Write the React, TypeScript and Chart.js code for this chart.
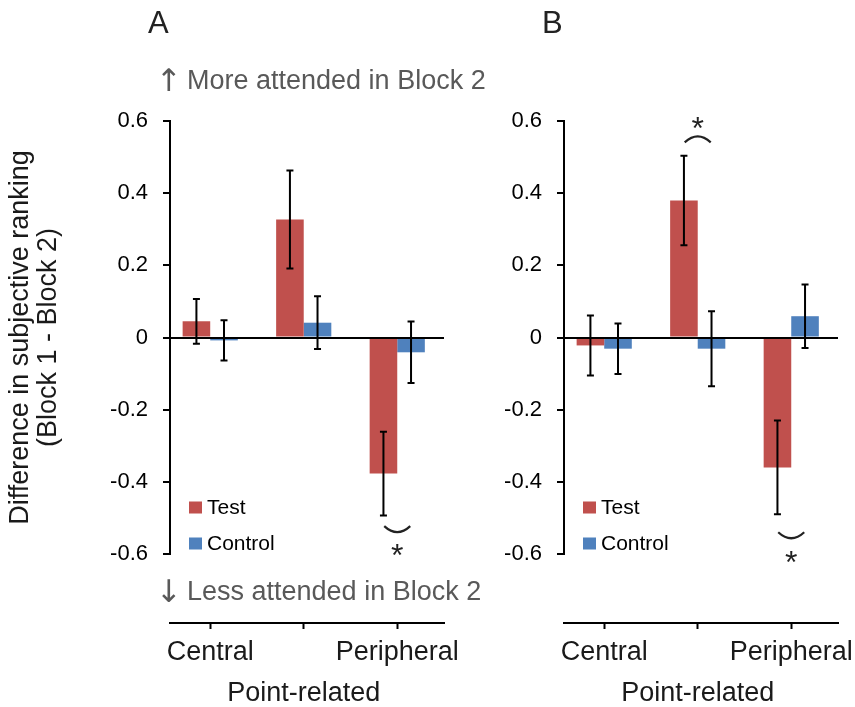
import React, { useEffect, useRef } from "react";
import { Chart, registerables } from "chart.js";

Chart.register(...registerables);

// ---------- data ----------
const categories = ["Central", "Point-related", "Peripheral"];
const seriesNames = ["Test", "Control"];

const panelATest = [0.045, 0.327, -0.377];
const panelATestErr = [0.062, 0.136, 0.116];
const panelAControl = [-0.008, 0.041, -0.041];
const panelAControlErr = [0.056, 0.073, 0.085];

const panelBTest = [-0.022, 0.38, -0.36];
const panelBTestErr = [0.083, 0.124, 0.13];
const panelBControl = [-0.031, -0.031, 0.059];
const panelBControlErr = [0.07, 0.104, 0.088];

const yTickValues = [-0.6, -0.4, -0.2, 0, 0.2, 0.4, 0.6];
const yAxisTitle = ["Difference in subjective ranking", "(Block 1 - Block 2)"];
const upArrow = "\u2191";
const downArrow = "\u2193";
const upperNote = "More attended in Block 2";
const lowerNote = "Less attended in Block 2";

// significance marks: category index, value where bracket sits, value where star sits
type Sig = { category: number; bracket: number; star: number };
const panelASig: Sig[] = [{ category: 2, bracket: -0.531, star: -0.59 }];
const panelBSig: Sig[] = [
  { category: 1, bracket: 0.549, star: 0.594 },
  { category: 2, bracket: -0.548, star: -0.607 },
];

// ---------- styles ----------
const FONT = "'Liberation Sans', Arial, Helvetica, sans-serif";
const ARROW_FONT = "'DejaVu Sans', sans-serif";
const RED = "#C0504D";
const BLUE = "#4F81BD";
const CANVAS_H = 707;

Chart.defaults.font.family = FONT;
Chart.defaults.color = "#000";

function makeDecor(letter: string, showNotes: boolean, sig: Sig[]) {
  return {
    id: "decor" + letter,
    afterDatasetsDraw(chart: any) {
      const ctx = chart.ctx;
      const ys = chart.scales.y;
      ctx.save();
      ctx.strokeStyle = "#000";
      ctx.lineWidth = 2;
      chart.data.datasets.forEach((ds: any, i: number) => {
        const meta = chart.getDatasetMeta(i);
        meta.data.forEach((el: any, j: number) => {
          const v = ds.data[j].y;
          const e = ds.errors[j];
          const t = ys.getPixelForValue(v + e);
          const b = ys.getPixelForValue(v - e);
          ctx.beginPath();
          ctx.moveTo(el.x, t);
          ctx.lineTo(el.x, b);
          ctx.moveTo(el.x - 3.5, t);
          ctx.lineTo(el.x + 3.5, t);
          ctx.moveTo(el.x - 3.5, b);
          ctx.lineTo(el.x + 3.5, b);
          ctx.stroke();
        });
      });
      ctx.restore();
    },
    afterDraw(chart: any) {
      const { ctx, chartArea } = chart;
      const ys = chart.scales.y;
      const xs = chart.scales.x;
      ctx.save();
      ctx.textAlign = "left";
      ctx.textBaseline = "alphabetic";
      // panel letter
      ctx.fillStyle = "#222";
      ctx.font = `31px ${FONT}`;
      ctx.fillText(letter, chartArea.left - 22, chartArea.top - 88);
      // direction notes
      if (showNotes) {
        ctx.fillStyle = "#595959";
        const upY = chartArea.top - 32;
        const downY = ys.bottom + 46;
        ctx.font = `31px ${ARROW_FONT}`;
        ctx.fillText(upArrow, chartArea.left - 14, upY + 2);
        ctx.fillText(downArrow, chartArea.left - 14, downY + 2);
        ctx.font = `27px ${FONT}`;
        ctx.fillText(upperNote, chartArea.left + 17, upY);
        ctx.fillText(lowerNote, chartArea.left + 17, downY);
      }
      // legend
      ctx.font = `21px ${FONT}`;
      ctx.textBaseline = "middle";
      const n = chart.data.datasets.length;
      chart.data.datasets.forEach((ds: any, i: number) => {
        const cy = ys.bottom - 10.5 - (n - 1 - i) * 36;
        ctx.fillStyle = ds.backgroundColor;
        ctx.fillRect(chartArea.left + 19, cy - 6, 13, 12);
        ctx.fillStyle = "#000";
        ctx.fillText(ds.label, chartArea.left + 37, cy + 1);
      });
      // significance
      sig.forEach((s) => {
        const cx = xs.getPixelForValue(s.category);
        const by = ys.getPixelForValue(s.bracket);
        const dir = s.bracket < 0 ? 1 : -1;
        ctx.strokeStyle = "#222";
        ctx.lineWidth = 2.2;
        ctx.beginPath();
        ctx.moveTo(cx - 13, by - dir * 3);
        ctx.quadraticCurveTo(cx, by + dir * 9, cx + 13, by - dir * 3);
        ctx.stroke();
        ctx.font = `32px ${FONT}`;
        ctx.textAlign = "center";
        ctx.textBaseline = "alphabetic";
        ctx.fillStyle = "#222";
        const m = ctx.measureText("*");
        const sy = ys.getPixelForValue(s.star);
        ctx.fillText("*", cx, sy + (m.actualBoundingBoxAscent - m.actualBoundingBoxDescent) / 2);
        ctx.textAlign = "left";
      });
      ctx.restore();
    },
  };
}

function buildConfig(
  test: number[],
  testErr: number[],
  control: number[],
  controlErr: number[],
  letter: string,
  yWidth: number,
  padRight: number,
  showTitle: boolean,
  sig: Sig[]
): any {
  return {
    type: "bar",
    data: {
      datasets: [
        {
          label: seriesNames[0],
          data: categories.map((_, i) => ({ x: i, y: test[i] })),
          errors: testErr,
          backgroundColor: RED,
          borderWidth: 0,
          xAxisID: "x",
          yAxisID: "y",
        },
        {
          label: seriesNames[1],
          data: categories.map((_, i) => ({ x: i, y: control[i] })),
          errors: controlErr,
          backgroundColor: BLUE,
          borderWidth: 0,
          xAxisID: "x",
          yAxisID: "y",
        },
      ],
    },
    options: {
      responsive: false,
      animation: false,
      layout: { padding: { top: 121, left: 0, right: padRight, bottom: 0 } },
      datasets: { bar: { categoryPercentage: 0.59, barPercentage: 1 } },
      plugins: { legend: { display: false }, tooltip: { enabled: false } },
      scales: {
        x: {
          type: "linear",
          position: "bottom",
          min: -0.43,
          max: 2.5,
          offset: false,
          afterBuildTicks: (s: any) => {
            s.ticks = categories.map((_, i) => ({ value: i }));
          },
          afterFit: (s: any) => {
            s.height = 84;
            s.paddingLeft = 0;
            s.paddingRight = 0;
          },
          grid: {
            display: true,
            offset: false,
            drawOnChartArea: false,
            drawTicks: true,
            tickLength: 6,
            tickColor: "#000",
            tickWidth: 2,
          },
          border: { display: true, color: "#000", width: 2 },
          ticks: {
            autoSkip: false,
            maxRotation: 0,
            minRotation: 0,
            padding: 3,
            color: "#1a1a1a",
            font: { size: 27, lineHeight: 1.52 },
            callback: (v: number, i: number) =>
              i % 2 === 1 ? ["", categories[v]] : categories[v],
          },
        },
        y: {
          type: "linear",
          position: "left",
          stack: "ys",
          stackWeight: 433,
          weight: 1,
          min: -0.6,
          max: 0.6,
          afterBuildTicks: (s: any) => {
            s.ticks = yTickValues.map((v) => ({ value: v }));
          },
          afterFit: (s: any) => {
            s.width = yWidth;
            s.paddingTop = 0;
            s.paddingBottom = 0;
          },
          grid: {
            z: 1,
            color: (c: any) =>
              c.tick && c.tick.value === 0 ? "#000" : "rgba(0,0,0,0)",
            lineWidth: 2,
            drawTicks: true,
            tickLength: 7,
            tickColor: "#000",
            tickWidth: 2,
          },
          border: { display: true, color: "#000", width: 2, z: 2 },
          ticks: {
            padding: 15,
            color: "#000",
            font: { size: 22 },
            callback: (v: number) => (v === 0 ? "0" : Number(v).toFixed(1)),
          },
          title: showTitle
            ? {
                display: true,
                text: yAxisTitle,
                color: "#1a1a1a",
                font: { size: 27, lineHeight: 1.05 },
                padding: { top: 6, bottom: 0 },
              }
            : { display: false },
        },
        y2: {
          type: "linear",
          position: "left",
          stack: "ys",
          stackWeight: 69,
          weight: 0,
          display: false,
        },
      },
    },
    plugins: [makeDecor(letter, showTitle, sig)],
  };
}

function Panel(props: { left: number; width: number; make: () => any }) {
  const ref = useRef<HTMLCanvasElement | null>(null);
  useEffect(() => {
    if (!ref.current) return;
    const chart = new Chart(ref.current, props.make());
    return () => chart.destroy();
  }, []);
  return (
    <canvas
      ref={ref}
      width={props.width}
      height={CANVAS_H}
      style={{
        position: "absolute",
        left: props.left,
        top: 0,
        width: props.width,
        height: CANVAS_H,
      }}
    />
  );
}

export default function App() {
  return (
    <div
      style={{
        position: "absolute",
        left: 0,
        top: 0,
        width: 855,
        height: CANVAS_H,
        background: "#fff",
      }}
    >
      <Panel
        left={0}
        width={500}
        make={() =>
          buildConfig(
            panelATest,
            panelATestErr,
            panelAControl,
            panelAControlErr,
            "A",
            170,
            56,
            true,
            panelASig
          )
        }
      />
      <Panel
        left={470}
        width={385}
        make={() =>
          buildConfig(
            panelBTest,
            panelBTestErr,
            panelBControl,
            panelBControlErr,
            "B",
            94,
            17,
            false,
            panelBSig
          )
        }
      />
    </div>
  );
}
